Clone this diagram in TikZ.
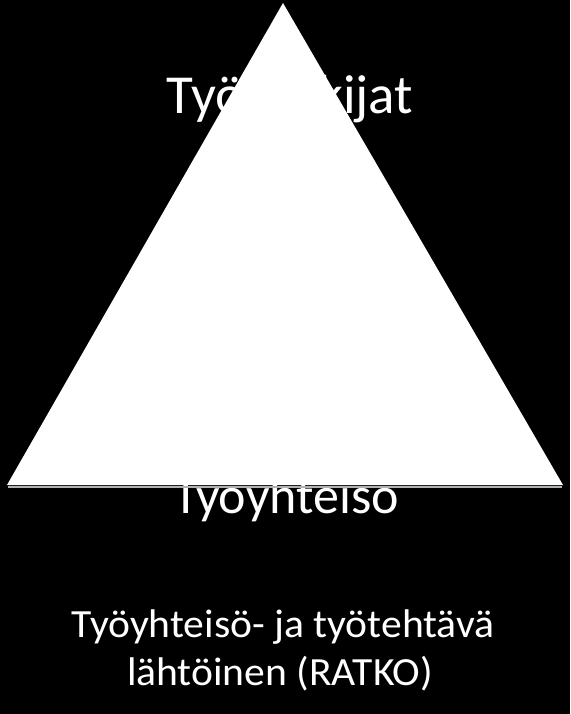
\documentclass[tikz,border=0pt]{standalone}
\usepackage{fontspec}
\setmainfont{Carlito}
\newfontfamily\widefont[FakeStretch=1.04]{Carlito}
\begin{document}
\begin{tikzpicture}[x=1pt,y=-1pt,
  txt/.style={text=white,anchor=base,inner sep=0pt}]
\fill[black] (0,0) rectangle (570,714);
\useasboundingbox (0,0) rectangle (570,714);
\node[txt,font=\fontsize{55}{60}\selectfont] (top) at (290,114) {Työntekijat};
\node[txt,font=\fontsize{52}{60}\selectfont] (bot) at (286,513) {Työyhteisö};
\node[txt,font=\widefont\fontsize{40}{46}\selectfont] (l1) at (283,637) {Työyhteisö- ja työtehtävä};
\node[txt,font=\widefont\fontsize{40}{46}\selectfont] (l2) at (280,685) {lähtöinen (RATKO)};
\fill[gray!60] (8,486) -- (562,486) -- (562,487.5) -- (8,487.5) -- cycle;
\fill[white] (283,3) coordinate (apex) -- (7,485) coordinate (bl) -- (563,485) coordinate (br) -- cycle;
\end{tikzpicture}
\end{document}
